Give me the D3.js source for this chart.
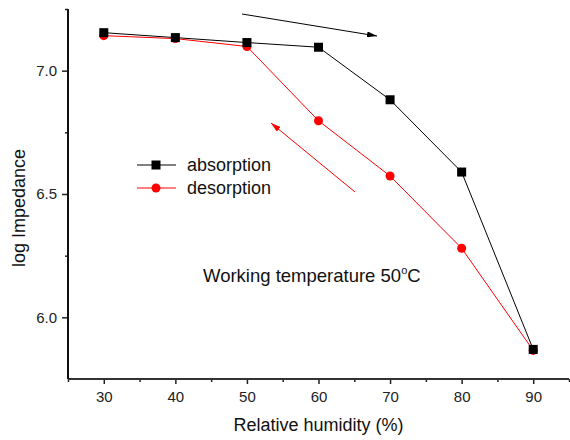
<!DOCTYPE html>
<html>
<head>
<meta charset="utf-8">
<script src="https://cdn.jsdelivr.net/npm/d3@7"></script>
<style>
  html, body { margin: 0; padding: 0; background: #fff; }
  svg { display: block; font-family: "Liberation Sans", Arial, sans-serif; }
</style>
</head>
<body>
<svg id="chart" width="570" height="440"></svg>
<script>
// Relative humidity (%) steps
const humidity = [30, 40, 50, 60, 70, 80, 90];
// log impedance while humidity rises
const absorption = [7.154, 7.134, 7.114, 7.095, 6.882, 6.589, 5.870];
// log impedance while humidity falls
const desorption = [7.142, 7.130, 7.098, 6.797, 6.573, 6.280, 5.866];
const xTicks = [30, 40, 50, 60, 70, 80, 90];
const yTicks = [6.0, 6.5, 7.0];

const svg = d3.select("#chart");
const x = d3.scaleLinear().domain([25, 95]).range([68, 569]);
const y = d3.scaleLinear().domain([5.75, 7.25]).range([379, 9]);

// Axes
const xAxis = svg.append("g").attr("transform", `translate(0,${y(5.75)})`)
  .call(d3.axisBottom(x).tickValues(xTicks).tickFormat(d3.format("d")).tickSize(5).tickPadding(7));
const xMinor = svg.append("g").attr("transform", `translate(0,${y(5.75)})`)
  .call(d3.axisBottom(x).tickValues(d3.range(25, 96, 10)).tickFormat("").tickSize(3));
const yAxis = svg.append("g").attr("transform", `translate(${x(25)},0)`)
  .call(d3.axisLeft(y).tickValues(yTicks).tickFormat(d3.format(".1f")).tickSize(6).tickPadding(5));
const yMinor = svg.append("g").attr("transform", `translate(${x(25)},0)`)
  .call(d3.axisLeft(y).tickValues([6.25, 6.75, 7.25]).tickFormat("").tickSize(3));

[xAxis, xMinor, yAxis, yMinor].forEach(g => {
  g.select(".domain").remove();
  g.selectAll("line").attr("stroke", "#222").attr("stroke-width", 1.5);
  g.selectAll("text").attr("fill", "#222").style("font-size", "15px")
    .style("font-family", "Liberation Sans, Arial, sans-serif");
});
svg.append("line").attr("x1", x(25)).attr("x2", x(95)).attr("y1", y(5.75)).attr("y2", y(5.75))
  .attr("stroke", "#333").attr("stroke-width", 2);
svg.append("line").attr("x1", x(25)).attr("x2", x(25)).attr("y1", y(5.75)).attr("y2", y(7.25))
  .attr("stroke", "#111").attr("stroke-width", 2);

// Axis titles
svg.append("text").attr("x", (x(25) + x(95)) / 2).attr("y", 431).attr("text-anchor", "middle")
  .style("font-size", "18px").attr("fill", "#111").text("Relative humidity (%)");
svg.append("text").attr("transform", `translate(25,${y(6.5) + 14}) rotate(-90)`).attr("text-anchor", "middle")
  .style("font-size", "18px").attr("fill", "#111").text("log Impedance");

// Series
const line = d3.line().x((d, i) => x(humidity[i])).y(d => y(d));
svg.append("path").datum(absorption).attr("d", line).attr("fill", "none").attr("stroke", "#000").attr("stroke-width", 1);
svg.append("path").datum(desorption).attr("d", line).attr("fill", "none").attr("stroke", "#ff0000").attr("stroke-width", 1);

svg.append("g").selectAll("circle").data(desorption).join("circle")
  .attr("cx", (d, i) => x(humidity[i])).attr("cy", d => y(d)).attr("r", 4.5).attr("fill", "#ff0000");
svg.append("g").selectAll("rect").data(absorption).join("rect")
  .attr("x", (d, i) => x(humidity[i]) - 4.5).attr("y", d => y(d) - 4.5)
  .attr("width", 9).attr("height", 9).attr("fill", "#000");

// Legend
const legend = [
  { name: "absorption", color: "#000", shape: "square", ly: 165 },
  { name: "desorption", color: "#ff0000", shape: "circle", ly: 188 }
];
legend.forEach(l => {
  svg.append("line").attr("x1", 137).attr("x2", 176).attr("y1", l.ly).attr("y2", l.ly)
    .attr("stroke", l.color).attr("stroke-width", 1);
  if (l.shape === "square") {
    svg.append("rect").attr("x", 151.5).attr("y", l.ly - 4.5).attr("width", 9).attr("height", 9).attr("fill", l.color);
  } else {
    svg.append("circle").attr("cx", 156).attr("cy", l.ly).attr("r", 4.5).attr("fill", l.color);
  }
  svg.append("text").attr("x", 187).attr("y", l.ly + 6).style("font-size", "18px").attr("fill", "#111").text(l.name);
});

// Direction arrows
const defs = svg.append("defs");
[["headBlack", "#000"], ["headRed", "#ff0000"]].forEach(([id, c]) => {
  defs.append("marker").attr("id", id).attr("viewBox", "0 0 10 6").attr("refX", 10).attr("refY", 3)
    .attr("markerWidth", 10).attr("markerHeight", 6).attr("markerUnits", "userSpaceOnUse").attr("orient", "auto")
    .append("path").attr("d", "M0,0 L10,3 L0,6 Z").attr("fill", c);
});
svg.append("line").attr("x1", 242).attr("y1", 14).attr("x2", 377).attr("y2", 36)
  .attr("stroke", "#000").attr("stroke-width", 1).attr("marker-end", "url(#headBlack)");
svg.append("line").attr("x1", 355).attr("y1", 192).attr("x2", 271).attr("y2", 123)
  .attr("stroke", "#ff0000").attr("stroke-width", 1).attr("marker-end", "url(#headRed)");

// Annotation
const note = svg.append("text").attr("x", 203).attr("y", 282).style("font-size", "18.5px").attr("fill", "#111");
note.append("tspan").text("Working temperature 50");
note.append("tspan").attr("dy", -8).style("font-size", "11px").text("o");
note.append("tspan").attr("dy", 8).text("C");
</script>
</body>
</html>
